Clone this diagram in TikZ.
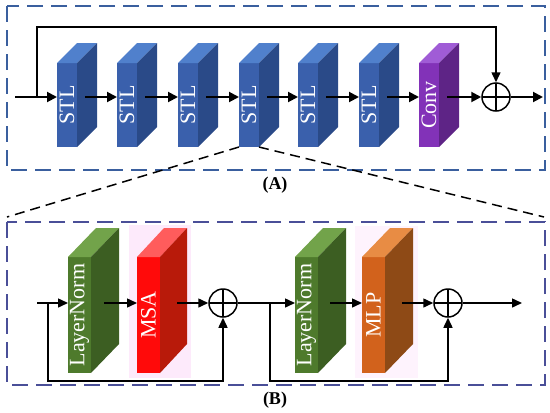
\documentclass[tikz,border=0pt]{standalone}
\usepackage{fontspec}
\setmainfont{Liberation Serif}
\usetikzlibrary{arrows.meta}
\definecolor{swFrameA}{HTML}{3A5F9E}
\definecolor{swFrameB}{HTML}{4A4F98}
\definecolor{stlFront}{HTML}{3A60AC}
\definecolor{stlTop}{HTML}{5080CC}
\definecolor{stlSide}{HTML}{2A4A88}
\definecolor{convFront}{HTML}{8232B8}
\definecolor{convTop}{HTML}{A05CD6}
\definecolor{convSide}{HTML}{5E2486}
\definecolor{lnFront}{HTML}{4E7A2C}
\definecolor{lnTop}{HTML}{72A34A}
\definecolor{lnSide}{HTML}{3C5E22}
\definecolor{msaFront}{HTML}{FF0A0A}
\definecolor{msaTop}{HTML}{FF5C5C}
\definecolor{msaSide}{HTML}{B81A0A}
\definecolor{mlpFront}{HTML}{D2621C}
\definecolor{mlpTop}{HTML}{E88C44}
\definecolor{mlpSide}{HTML}{8E4A16}
\definecolor{swHalo}{HTML}{FDEAFB}
\tikzset{
  sw frame A/.style={draw=swFrameA, dash pattern=on 16pt off 8pt, line width=2pt},
  sw frame B/.style={draw=swFrameB, dash pattern=on 16pt off 8pt, line width=2pt},
  sw zoom/.style={draw=black, dash pattern=on 10pt off 6pt, line width=1.5pt},
  sw arrow/.style={draw=black, line width=2pt, -{Triangle[length=10pt,width=10pt]}},
  sw arrow b/.style={draw=black, line width=1.5pt, -{Triangle[length=10pt,width=9pt]}},
  sw face/.style={inner sep=0pt, outer sep=0pt, text=white, font=\fontsize{22}{22}\selectfont},
  sw top/.style={sw face, minimum width=20pt, minimum height=84pt},
  sw low/.style={sw face, minimum width=23pt, minimum height=116pt},
  sw sum/.style={circle, draw=black, line width=1.5pt, minimum size=28pt, inner sep=0pt,
    path picture={\draw[line width=1.5pt] (path picture bounding box.north) -- (path picture bounding box.south)
      (path picture bounding box.west) -- (path picture bounding box.east);}},
  sw label/.style={font=\bfseries\fontsize{18}{18}\selectfont},
}
% top and side faces of a block: node, depth x, depth y, colour prefix
\newcommand{\swDepth}[4]{%
  \fill[#4Top] (#1.north west) -- ([shift={(#2,-#3)}]#1.north west)
    -- ([shift={(#2,-#3)}]#1.north east) -- (#1.north east) -- cycle;
  \fill[#4Side] (#1.north east) -- ([shift={(#2,-#3)}]#1.north east)
    -- ([shift={(#2,-#3)}]#1.south east) -- (#1.south east) -- cycle;
}

\begin{document}
\begin{tikzpicture}[x=1pt,y=-1pt]
  \useasboundingbox (0,0) rectangle (550,413);

  % (A) residual group
  \draw[sw frame A] (7,6) rectangle (545,170);
  \node[sw top, fill=stlFront] (s1) at (67,105) {\rotatebox{90}{STL}};
  \swDepth{s1}{20}{20}{stl}
  \node[sw top, fill=stlFront] (s2) at (127,105) {\rotatebox{90}{STL}};
  \swDepth{s2}{20}{20}{stl}
  \node[sw top, fill=stlFront] (s3) at (188,105) {\rotatebox{90}{STL}};
  \swDepth{s3}{20}{20}{stl}
  \node[sw top, fill=stlFront] (s4) at (249,105) {\rotatebox{90}{STL}};
  \swDepth{s4}{20}{20}{stl}
  \node[sw top, fill=stlFront] (s5) at (308,105) {\rotatebox{90}{STL}};
  \swDepth{s5}{20}{20}{stl}
  \node[sw top, fill=stlFront] (s6) at (369,105) {\rotatebox{90}{STL}};
  \swDepth{s6}{20}{20}{stl}
  \node[sw top, fill=convFront] (conv) at (429,105) {\rotatebox{90}{Conv}};
  \swDepth{conv}{20}{20}{conv}
  \node[sw sum] (sumA) at (496,97) {};

  \coordinate (inA) at (15,97);
  \coordinate (splitA) at (37,97);
  \coordinate (outA) at (543,97);
  \draw[sw arrow] (inA) -- ([yshift=8pt]s1.west);
  \draw[sw arrow] ([xshift=8pt,yshift=8pt]s1.east) -- ([yshift=8pt]s2.west);
  \draw[sw arrow] ([xshift=8pt,yshift=8pt]s2.east) -- ([yshift=8pt]s3.west);
  \draw[sw arrow] ([xshift=8pt,yshift=8pt]s3.east) -- ([yshift=8pt]s4.west);
  \draw[sw arrow] ([xshift=8pt,yshift=8pt]s4.east) -- ([yshift=8pt]s5.west);
  \draw[sw arrow] ([xshift=8pt,yshift=8pt]s5.east) -- ([yshift=8pt]s6.west);
  \draw[sw arrow] ([xshift=8pt,yshift=8pt]s6.east) -- ([yshift=8pt]conv.west);
  \draw[sw arrow] ([xshift=8pt,yshift=8pt]conv.east) -- (sumA.west);
  \draw[sw arrow b] (splitA) -- ++(0,-70) -| (sumA.north);
  \draw[sw arrow] (sumA.east) -- (outA);
  \node[sw label] (labA) at (275,185) {(A)};

  % zoom into one STL
  \coordinate (zoomL) at (7,217);
  \coordinate (zoomR) at (544,217);
  \draw[sw zoom] (s4.south west) -- (zoomL);
  \draw[sw zoom] (s4.south east) -- (zoomR);

  % (B) swin transformer layer
  \draw[sw frame B] (7,222) rectangle (545,385);
  \fill[swHalo] (129,225) rectangle (191,378);
  \fill[swHalo!60] (355,226) rectangle (418,378);
  \node[sw low, fill=lnFront] (ln1) at (79.5,315) {\rotatebox{90}{LayerNorm}};
  \swDepth{ln1}{28}{29}{ln}
  \node[sw low, fill=msaFront] (msa) at (148.5,315) {\rotatebox{90}{MSA}};
  \swDepth{msa}{27}{29}{msa}
  \node[sw low, fill=lnFront] (ln2) at (306.5,315) {\rotatebox{90}{LayerNorm}};
  \swDepth{ln2}{28}{29}{ln}
  \node[sw low, fill=mlpFront] (mlp) at (373.5,315) {\rotatebox{90}{MLP}};
  \swDepth{mlp}{28}{29}{mlp}
  \node[sw sum] (sumB) at (223,303) {};
  \node[sw sum] (sumC) at (448,303) {};

  \coordinate (inB) at (37,303);
  \coordinate (splitB) at (48,303);
  \coordinate (splitC) at (270,303);
  \coordinate (outB) at (522,303);
  \draw[sw arrow b] (inB) -- ([yshift=12pt]ln1.west);
  \draw[sw arrow b] ([xshift=13pt,yshift=12pt]ln1.east) -- ([yshift=12pt]msa.west);
  \draw[sw arrow b] ([xshift=17pt,yshift=12pt]msa.east) -- (sumB.west);
  \draw[sw arrow b] (splitB) -- ++(0,78) -| (sumB.south);
  \draw[sw arrow b] (sumB.east) -- ([yshift=12pt]ln2.west);
  \draw[sw arrow b] ([xshift=12pt,yshift=12pt]ln2.east) -- ([yshift=12pt]mlp.west);
  \draw[sw arrow b] ([xshift=17pt,yshift=12pt]mlp.east) -- (sumC.west);
  \draw[sw arrow b] (splitC) -- ++(0,78) -| (sumC.south);
  \draw[sw arrow b] (sumC.east) -- (outB);
  \node[sw label] (labB) at (275,400) {(B)};
\end{tikzpicture}
\end{document}
